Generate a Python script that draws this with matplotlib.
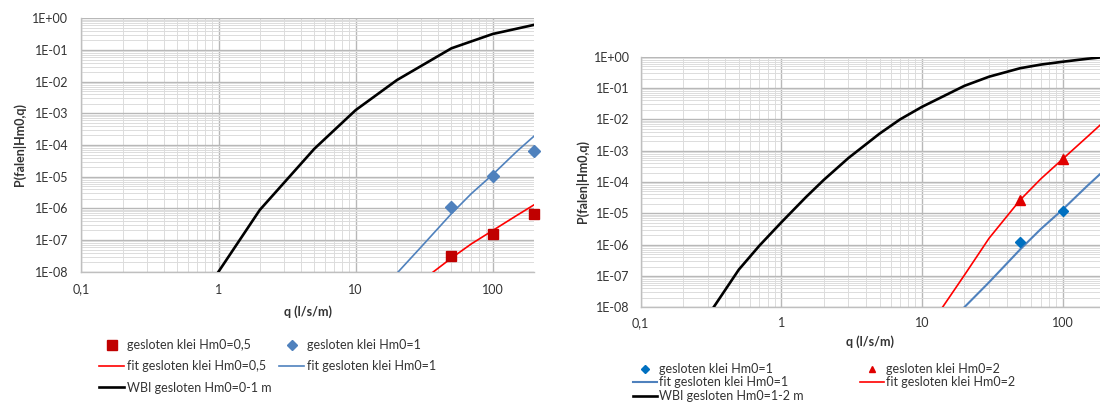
import numpy as np
import matplotlib
matplotlib.use("Agg")
import matplotlib.pyplot as plt
from matplotlib.ticker import LogLocator, NullFormatter, FixedLocator, FixedFormatter
from matplotlib.lines import Line2D

plt.rcParams['font.family'] = ['Lato', 'DejaVu Sans']

# ---------------- data: left panel ----------------
q_pts_left = [50, 100, 200]
p_hm05 = [3.2e-8, 1.6e-7, 6.5e-7]
p_hm1_left = [1.1e-6, 1.08e-5, 6.3e-5]

q_fit05 = [35, 50, 70, 100, 150, 200]
p_fit05 = [8.3e-9, 2.7e-8, 7.6e-8, 2.0e-7, 6.0e-7, 1.29e-6]

q_fit1_left = [20, 30, 50, 70, 100, 150, 200]
p_fit1_left = [8.9e-9, 6.0e-8, 6.8e-7, 2.95e-6, 1.17e-5, 6.3e-5, 1.9e-4]

q_wbi01 = [1, 2, 5, 10, 20, 50, 100, 200]
p_wbi01 = [1.0e-8, 8.9e-7, 7.6e-5, 1.26e-3, 1.12e-2, 0.113, 0.32, 0.62]

# ---------------- data: right panel ----------------
q_pts_right = [50, 100]
p_hm1_right = [1.2e-6, 1.2e-5]
p_hm2 = [2.7e-5, 5.4e-4]

q_fit1_right = [20, 30, 50, 70, 100, 150, 200]
p_fit1_right = [1.0e-8, 6.3e-8, 7.1e-7, 3.16e-6, 1.32e-5, 7.6e-5, 2.5e-4]

q_fit2 = [14, 20, 30, 50, 70, 100, 150, 200]
p_fit2 = [1.0e-8, 1.05e-7, 1.6e-6, 2.7e-5, 1.26e-4, 5.4e-4, 2.8e-3, 9.1e-3]

q_wbi12 = [0.333, 0.5, 0.7, 1, 1.5, 2, 3, 5, 7, 10, 20, 30, 50, 70, 100, 150, 200]
p_wbi12 = [1.05e-8, 1.6e-7, 9.3e-7, 5.1e-6, 3.3e-5, 1.15e-4, 5.8e-4, 3.5e-3, 1.0e-2,
           2.5e-2, 0.117, 0.23, 0.43, 0.56, 0.69, 0.86, 0.98]

# ---------------- labels ----------------
x_ticks = [0.1, 1, 10, 100]
x_tick_labels = ["0,1", "1", "10", "100"]
y_ticks = [10.0 ** k for k in range(-8, 1)]
y_tick_labels = ["1E-08", "1E-07", "1E-06", "1E-05", "1E-04", "1E-03", "1E-02", "1E-01", "1E+00"]
xlabel = "q (l/s/m)"
ylabel = "P(falen|Hm0,q)"

TXT = '#333333'
RED = '#FF0000'
DRED = '#C00000'
BLUE = '#4F81BD'
BLUE2 = '#0070C0'

W, H = 1100, 403
fig = plt.figure(figsize=(W / 100, H / 100), dpi=100)


def px_axes(l, t, r, b):
    return fig.add_axes([l / W, 1 - b / H, (r - l) / W, (b - t) / H])


def style(ax, ypad, xpad, ylab_xy, xlab_xy):
    ax.set_xscale('log')
    ax.set_yscale('log')
    ax.set_xlim(0.1, 200)
    ax.set_ylim(1e-8, 1)
    ax.xaxis.set_major_locator(FixedLocator(x_ticks))
    ax.xaxis.set_major_formatter(FixedFormatter(x_tick_labels))
    ax.yaxis.set_major_locator(FixedLocator(y_ticks))
    ax.yaxis.set_major_formatter(FixedFormatter(y_tick_labels))
    ax.xaxis.set_minor_locator(LogLocator(base=10, subs=np.arange(2, 10), numticks=100))
    ax.yaxis.set_minor_locator(LogLocator(base=10, subs=np.arange(2, 10), numticks=100))
    ax.xaxis.set_minor_formatter(NullFormatter())
    ax.yaxis.set_minor_formatter(NullFormatter())
    ax.grid(True, which='major', color='#B8B8B8', lw=1.0, zorder=0)
    ax.grid(True, which='minor', color='#DCDCDC', lw=0.7, zorder=0)
    ax.set_axisbelow(True)
    for s in ['top', 'right']:
        ax.spines[s].set_visible(False)
    for s in ['left', 'bottom']:
        ax.spines[s].set_color('#BFBFBF')
        ax.spines[s].set_linewidth(1.0)
    ax.tick_params(which='both', length=0, labelcolor=TXT, labelsize=9)
    ax.tick_params(axis='y', pad=ypad)
    ax.tick_params(axis='x', pad=xpad)
    ax.set_ylabel(ylabel, fontsize=9, fontweight='bold', color=TXT)
    ax.set_xlabel(xlabel, fontsize=9, fontweight='bold', color=TXT)
    ax.yaxis.set_label_coords(*ylab_xy)
    ax.xaxis.set_label_coords(*xlab_xy)
    ax.yaxis.label.set_va('center')
    ax.xaxis.label.set_va('center')


# ---------------- left panel ----------------
axL = px_axes(81.4, 18.3, 534, 271.7)
style(axL, 9.4, 8.5, (-0.138, 0.5), (0.501, -0.159))
axL.plot(q_wbi01, p_wbi01, color='black', lw=1.9, zorder=3)
axL.plot(q_fit05, p_fit05, color=RED, lw=1.2, zorder=3)
axL.plot(q_fit1_left, p_fit1_left, color=BLUE, lw=1.2, zorder=3)
axL.plot(q_pts_left, p_hm05, ls='none', marker='s', ms=7, color=DRED, zorder=4, clip_on=False)
axL.plot(q_pts_left, p_hm1_left, ls='none', marker='D', ms=6, color=BLUE, zorder=4, clip_on=False)

hL = [Line2D([], [], ls='none', marker='s', ms=7, color=DRED),
      Line2D([], [], color=RED, lw=1.2),
      Line2D([], [], color='black', lw=1.9),
      Line2D([], [], ls='none', marker='D', ms=5, color=BLUE),
      Line2D([], [], color=BLUE, lw=1.2)]
lL = ["gesloten klei Hm0=0,5", "fit gesloten klei Hm0=0,5", "WBI gesloten Hm0=0-1 m",
      "gesloten klei Hm0=1", "fit gesloten klei Hm0=1"]
fig.legend(hL, lL, ncol=2, loc='upper left', bbox_to_anchor=(99 / W, 1 - 339 / H),
           frameon=False, fontsize=9, handlelength=2.0, handletextpad=0.25,
           columnspacing=0.6, labelspacing=0.75, borderpad=0, borderaxespad=0,
           labelcolor=TXT)

# ---------------- right panel ----------------
axR = px_axes(640.5, 56.7, 1105, 307.3)
style(axR, 7.6, 7.0, (-0.124, 0.501), (0.494, -0.137))
axR.plot(q_wbi12, p_wbi12, color='black', lw=1.9, zorder=3)
axR.plot(q_fit2, p_fit2, color=RED, lw=1.2, zorder=3)
axR.plot(q_fit1_right, p_fit1_right, color=BLUE, lw=1.5, zorder=3)
axR.plot(q_pts_right, p_hm1_right, ls='none', marker='D', ms=5.5, color=BLUE2, zorder=4)
axR.plot(q_pts_right, p_hm2, ls='none', marker='^', ms=7, color='#E00000', zorder=4)

hR = [Line2D([], [], ls='none', marker='D', ms=4, color=BLUE2),
      Line2D([], [], color=BLUE, lw=1.5),
      Line2D([], [], color='black', lw=1.9),
      Line2D([], [], ls='none', marker='^', ms=5, color='#E00000'),
      Line2D([], [], color=RED, lw=1.2)]
lR = ["gesloten klei Hm0=1", "fit gesloten klei Hm0=1", "WBI gesloten Hm0=1-2 m",
      "gesloten klei Hm0=2", "fit gesloten klei Hm0=2"]
fig.legend(hR, lR, ncol=2, loc='upper left', bbox_to_anchor=(633 / W, 1 - 363 / H),
           frameon=False, fontsize=9, handlelength=1.9, handletextpad=0.2,
           columnspacing=4.5, labelspacing=0.12, borderpad=0, borderaxespad=0,
           labelcolor=TXT)

fig.savefig("out.png", dpi=100)
